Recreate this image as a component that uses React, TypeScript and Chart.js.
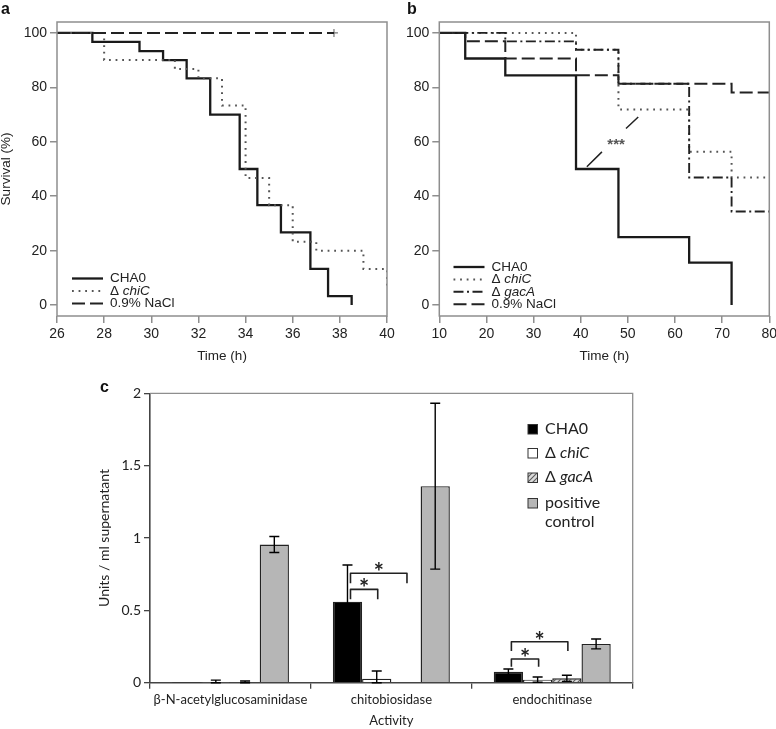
import React, { useEffect, useRef } from "react";
import { Chart, registerables } from "chart.js";

Chart.register(...registerables);

// ---------------- Panel a ----------------
const aTimeTicks = [26, 28, 30, 32, 34, 36, 38, 40];
const aCHA0Time = [26, 27.5, 29.5, 30.5, 31.5, 32.5, 33.75, 34.5, 35.5, 36.75, 37.5, 38.5];
const aCHA0Surv = [100, 96.7, 93.3, 90, 83.3, 70, 50, 36.7, 26.7, 13.3, 3.3, 0];
const aChiCTime = [26, 28, 31, 32, 33, 34, 35, 36, 37, 39, 40];
const aChiCSurv = [100, 90, 86.7, 83.3, 73.3, 46.7, 36.7, 23.3, 20, 13.3, 6.7];
const aNaClTime = [26, 37.75];
const aNaClSurv = [100, 100];
const aCensorTime = [37.75];
const aCensorSurv = [100];

// ---------------- Panel b ----------------
const bTimeTicks = [10, 20, 30, 40, 50, 60, 70, 80];
const bCHA0Time = [10, 15.5, 24, 39, 48, 63, 72];
const bCHA0Surv = [100, 90.6, 84.4, 50, 25, 15.6, 0];
const bChiCTime = [10, 39, 48, 63, 72, 80];
const bChiCSurv = [100, 93.8, 71.9, 56.3, 46.9, 46.9];
const bGacATime = [10, 24, 39, 48, 63, 72, 80];
const bGacASurv = [100, 96.9, 93.8, 81.3, 46.9, 34.4, 34.4];
const bNaClTime = [10, 15.5, 24, 39, 48, 72, 80];
const bNaClSurv = [100, 96.9, 90.6, 84.4, 81.3, 78.1, 78.1];
const bSigLineTime = [41.3, 44.5, 47.5, 49.6, 52.2];
const bSigLineSurv = [50.8, 56.3, null, 64.9, 69.1];
const bSigText = "***";
const bSigTextTime = [47.5];
const bSigTextSurv = [59.5];

const survivalTicks = [0, 20, 40, 60, 80, 100];

// ---------------- Panel c ----------------
const activities = ["β-N-acetylglucosaminidase", "chitobiosidase", "endochitinase"];
const cCHA0 = [0.002, 0.56, 0.075];
const cCHA0Err = [0, 0.253, 0.02];
const cChiC = [0.003, 0.028, 0.021];
const cChiCErr = [0.015, 0.053, 0.018];
const cGacA = [0.004, 0.004, 0.03];
const cGacAErr = [0.008, 0, 0.021];
const cPositive = [0.955, 1.358, 0.268];
const cPositiveErr = [0.055, 0.573, 0.034];
const unitsTicks = [0, 0.5, 1, 1.5, 2];
const cBracketActivity = [1, 1, 2, 2];
const cBracketFrom = [0, 0, 0, 0];
const cBracketTo = [1, 2, 1, 2];
const cBracketTop = [0.645, 0.756, 0.164, 0.283];
const cBracketFoot = [0.576, 0.687, 0.111, 0.219];
const cBracketText = ["*", "*", "*", "*"];

// ---------------- styles ----------------
const SANS = "'Liberation Sans', Arial, Helvetica, sans-serif";
const CAL = "Lato, 'Open Sans', sans-serif";
const TXT = "#222";
const STYLE_SOLID = { color: "#1a1a1a", width: 2.3, dash: [] as number[] };
const STYLE_DOT = { color: "#555", width: 2, dash: [1.8, 4.8] };
const STYLE_DASH = { color: "#222", width: 2, dash: [13, 5] };
const STYLE_DASHDOT = { color: "#222", width: 1.9, dash: [10, 3.5, 2, 3.5] };

function pts(t: number[], s: (number | null)[]) {
  return t.map((x, i) => ({ x, y: s[i] }));
}

function lineDs(t: number[], s: number[], st: any) {
  return {
    data: pts(t, s),
    stepped: true,
    borderColor: st.color,
    borderWidth: st.width,
    borderDash: st.dash,
    pointRadius: 0,
    fill: false,
  };
}

function panelPlugin(cfg: any) {
  return {
    id: "panel_" + cfg.letter,
    afterDraw(chart: any) {
      const ctx = chart.ctx;
      const ca = chart.chartArea;
      ctx.save();
      ctx.strokeStyle = "#8e8e8e";
      ctx.lineWidth = 1.5;
      ctx.setLineDash([]);
      ctx.strokeRect(ca.left, ca.top, ca.right - ca.left, ca.bottom - ca.top);
      ctx.fillStyle = "#111";
      ctx.font = "bold 16px " + SANS;
      ctx.textBaseline = "alphabetic";
      ctx.textAlign = "left";
      ctx.fillText(cfg.letter, cfg.letterX, cfg.letterY);
      cfg.legend.forEach((item: any, i: number) => {
        const y = cfg.legendY + i * cfg.legendStep;
        ctx.strokeStyle = item.style.color;
        ctx.lineWidth = item.style.width;
        ctx.setLineDash(item.style.dash);
        ctx.beginPath();
        ctx.moveTo(cfg.legendX, y);
        ctx.lineTo(cfg.legendX + 31, y);
        ctx.stroke();
        ctx.setLineDash([]);
        let x = cfg.legendX + 38;
        ctx.fillStyle = TXT;
        ctx.textBaseline = "middle";
        item.parts.forEach((p: [string, boolean]) => {
          ctx.font = (p[1] ? "italic " : "") + "13.5px " + SANS;
          ctx.fillText(p[0], x, y);
          x += ctx.measureText(p[0]).width;
        });
      });
      if (cfg.sig) {
        const xs = chart.scales.x, ys = chart.scales.y;
        ctx.fillStyle = "#555";
        ctx.font = "bold 15px " + SANS;
        ctx.textAlign = "center";
        ctx.textBaseline = "middle";
        ctx.fillText(cfg.sig.text, xs.getPixelForValue(cfg.sig.x), ys.getPixelForValue(cfg.sig.y) + 2);
      }
      ctx.restore();
    },
  };
}

function makeSurvival(canvas: HTMLCanvasElement, cfg: any) {
  const font = { family: SANS, size: 14 };
  const tfont = { family: SANS, size: 13.5 };
  return new Chart(canvas, {
    type: "line",
    data: { datasets: cfg.datasets },
    options: {
      responsive: false,
      animation: false,
      events: [],
      layout: { padding: { left: cfg.padLeft, top: 22, right: cfg.padRight, bottom: 0 } },
      plugins: { legend: { display: false }, tooltip: { enabled: false } },
      scales: {
        x: {
          type: "linear",
          min: cfg.xMin,
          max: cfg.xMax,
          afterBuildTicks: (s: any) => {
            s.ticks = cfg.xTicks.map((v: number) => ({ value: v }));
          },
          ticks: { font, color: TXT, padding: 3, maxRotation: 0, autoSkip: false, callback: (v: any) => String(v) },
          grid: { drawOnChartArea: false, drawTicks: true, tickLength: 7, color: "#8e8e8e", lineWidth: 1.5 },
          border: { display: false },
          title: { display: true, text: "Time (h)", font: tfont, color: TXT, padding: { top: 0, bottom: 1 } },
          afterFit: (s: any) => {
            s.height = 49;
            s.paddingLeft = 0;
            s.paddingRight = 0;
          },
        },
        y: {
          type: "linear",
          min: -4,
          max: 104,
          afterBuildTicks: (s: any) => {
            s.ticks = survivalTicks.map((v) => ({ value: v }));
          },
          ticks: { font, color: TXT, padding: 3, callback: (v: any) => String(v) },
          grid: { drawOnChartArea: false, drawTicks: true, tickLength: 7, color: "#8e8e8e", lineWidth: 1.5 },
          border: { display: false },
          title: { display: !!cfg.yTitle, text: cfg.yTitle || "", font: tfont, color: TXT, padding: { top: -1.5, bottom: 0 } },
          afterFit: (s: any) => {
            s.width = cfg.yWidth;
            s.paddingTop = 0;
            s.paddingBottom = 0;
          },
        },
      },
    },
    plugins: [panelPlugin(cfg)],
  } as any);
}

function makeHatch() {
  const c = document.createElement("canvas");
  c.width = 5;
  c.height = 5;
  const g = c.getContext("2d") as CanvasRenderingContext2D;
  g.fillStyle = "#dcdcdc";
  g.fillRect(0, 0, 5, 5);
  g.strokeStyle = "#5a5a5a";
  g.lineWidth = 1.1;
  g.beginPath();
  g.moveTo(0, 5);
  g.lineTo(5, 0);
  g.moveTo(-1, 1);
  g.lineTo(1, -1);
  g.moveTo(4, 6);
  g.lineTo(6, 4);
  g.stroke();
  return g.createPattern(c, "repeat");
}

function makeC(canvas: HTMLCanvasElement) {
  const hatch = makeHatch();
  const values = [cCHA0, cChiC, cGacA, cPositive];
  const errs = [cCHA0Err, cChiCErr, cGacAErr, cPositiveErr];
  const fills: any[] = ["#000", "#fff", hatch, "#b6b6b6"];
  const legendItems: [string, boolean][][] = [
    [["CHA0", false]],
    [["Δ ", false], ["chiC", true]],
    [["Δ ", false], ["gacA", true]],
    [["positive", false]],
  ];
  const axisFont = { family: CAL, size: 13 };
  const yFont = { family: CAL, size: 14 };
  const plugin = {
    id: "panelC",
    afterDatasetsDraw(chart: any) {
      const ctx = chart.ctx;
      const ys = chart.scales.y;
      ctx.save();
      ctx.strokeStyle = "#000";
      ctx.lineWidth = 1.4;
      ctx.setLineDash([]);
      errs.forEach((arr, di) => {
        const meta = chart.getDatasetMeta(di);
        meta.data.forEach((bar: any, j: number) => {
          const e = arr[j];
          if (!e) return;
          const v = values[di][j];
          const yt = ys.getPixelForValue(v + e);
          const yb = ys.getPixelForValue(Math.max(0, v - e));
          const x = bar.x;
          ctx.beginPath();
          ctx.moveTo(x, yt);
          ctx.lineTo(x, yb);
          ctx.moveTo(x - 5, yt);
          ctx.lineTo(x + 5, yt);
          ctx.moveTo(x - 5, yb);
          ctx.lineTo(x + 5, yb);
          ctx.stroke();
        });
      });
      // significance brackets
      ctx.strokeStyle = "#222";
      ctx.lineWidth = 1.6;
      ctx.lineJoin = "round";
      cBracketActivity.forEach((g, k) => {
        const x1 = chart.getDatasetMeta(cBracketFrom[k]).data[g].x + 3;
        const x2 = chart.getDatasetMeta(cBracketTo[k]).data[g].x + 1;
        const yt = ys.getPixelForValue(cBracketTop[k]);
        const yf = ys.getPixelForValue(cBracketFoot[k]);
        ctx.beginPath();
        ctx.moveTo(x1, yf);
        ctx.lineTo(x1, yt);
        ctx.lineTo(x2, yt);
        ctx.lineTo(x2, yf);
        ctx.stroke();
        ctx.fillStyle = "#222";
        ctx.font = "bold 24px " + CAL;
        ctx.textAlign = "center";
        ctx.textBaseline = "alphabetic";
        ctx.fillText(cBracketText[k], (x1 + x2) / 2, yt + 8);
      });
      ctx.restore();
    },
    afterDraw(chart: any) {
      const ctx = chart.ctx;
      const ca = chart.chartArea;
      ctx.save();
      ctx.strokeStyle = "#8e8e8e";
      ctx.lineWidth = 1.3;
      ctx.beginPath();
      ctx.moveTo(ca.left, ca.top);
      ctx.lineTo(ca.right, ca.top);
      ctx.lineTo(ca.right, ca.bottom);
      ctx.stroke();
      // panel letter
      ctx.fillStyle = "#111";
      ctx.font = "bold 16px " + SANS;
      ctx.textAlign = "left";
      ctx.textBaseline = "alphabetic";
      ctx.fillText("c", 100, 32);
      // legend
      const lx = 528;
      const baselines = [73.5, 97.5, 122, 147.5];
      legendItems.forEach((parts, i) => {
        const b = baselines[i];
        ctx.fillStyle = fills[i];
        ctx.fillRect(lx, b - 9, 9.5, 9.5);
        ctx.strokeStyle = "#333";
        ctx.lineWidth = 1;
        ctx.strokeRect(lx, b - 9, 9.5, 9.5);
        let x = lx + 17;
        ctx.fillStyle = TXT;
        parts.forEach((p) => {
          ctx.font = (p[1] ? "italic " : "") + "16px " + CAL;
          ctx.fillText(p[0], x, b);
          x += ctx.measureText(p[0]).width;
        });
      });
      ctx.font = "16px " + CAL;
      ctx.fillText("control", lx + 17, 167);
      ctx.restore();
    },
  };
  return new Chart(canvas, {
    type: "bar",
    data: {
      labels: activities,
      datasets: values.map((v, i) => ({
        data: v,
        backgroundColor: fills[i],
        borderColor: "#222",
        borderWidth: 1.4,
        categoryPercentage: 0.727,
        barPercentage: 1,
      })),
    },
    options: {
      responsive: false,
      animation: false,
      events: [],
      layout: { padding: { left: 95, top: 33.3, right: 143.3, bottom: 0 } },
      plugins: { legend: { display: false }, tooltip: { enabled: false } },
      scales: {
        x: {
          grid: { offset: true, drawOnChartArea: false, drawTicks: true, tickLength: 6, color: "#444", lineWidth: 1.3 },
          border: { color: "#444", width: 1.6 },
          ticks: { font: axisFont, color: TXT, padding: 3, maxRotation: 0, autoSkip: false },
          title: { display: true, text: "Activity", font: axisFont, color: TXT, padding: { top: 0, bottom: 0.5 } },
          afterFit: (s: any) => {
            s.height = 46.3;
            s.paddingLeft = 0;
            s.paddingRight = 0;
          },
        },
        y: {
          min: 0,
          max: 2,
          afterBuildTicks: (s: any) => {
            s.ticks = unitsTicks.map((v) => ({ value: v }));
          },
          grid: { drawOnChartArea: false, drawTicks: true, tickLength: 6, color: "#444", lineWidth: 1.3 },
          border: { color: "#444", width: 1.6 },
          ticks: { font: yFont, color: TXT, padding: 3, callback: (v: any) => String(v) },
          title: { display: true, text: "Units / ml supernatant", font: yFont, color: TXT, padding: { top: 1.2, bottom: 0 } },
          afterFit: (s: any) => {
            s.width = 55;
            s.paddingTop = 0;
            s.paddingBottom = 0;
          },
        },
      },
    },
    plugins: [plugin],
  } as any);
}

export default function App() {
  const aRef = useRef<HTMLCanvasElement>(null);
  const bRef = useRef<HTMLCanvasElement>(null);
  const cRef = useRef<HTMLCanvasElement>(null);

  useEffect(() => {
    const chartA = makeSurvival(aRef.current as HTMLCanvasElement, {
      letter: "a",
      letterX: 1,
      letterY: 14,
      padLeft: 0,
      padRight: 13,
      yWidth: 57,
      yTitle: "Survival (%)",
      xMin: 26,
      xMax: 40,
      xTicks: aTimeTicks,
      legendX: 72,
      legendY: 278.5,
      legendStep: 12.5,
      legend: [
        { style: STYLE_SOLID, parts: [["CHA0", false]] },
        { style: STYLE_DOT, parts: [["Δ ", false], ["chiC", true]] },
        { style: STYLE_DASH, parts: [["0.9% NaCl", false]] },
      ],
      datasets: [
        lineDs(aNaClTime, aNaClSurv, STYLE_DASH),
        {
          data: pts(aCensorTime, aCensorSurv),
          showLine: false,
          pointStyle: "cross",
          pointRadius: 4,
          borderColor: "#777",
          borderWidth: 1.2,
        },
        lineDs(aChiCTime, aChiCSurv, STYLE_DOT),
        lineDs(aCHA0Time, aCHA0Surv, STYLE_SOLID),
      ],
    });
    const chartB = makeSurvival(bRef.current as HTMLCanvasElement, {
      letter: "b",
      letterX: 27,
      letterY: 14,
      padLeft: 0,
      padRight: 6.7,
      yWidth: 59.3,
      yTitle: "",
      xMin: 10,
      xMax: 80,
      xTicks: bTimeTicks,
      legendX: 73.5,
      legendY: 267,
      legendStep: 12.4,
      sig: { text: bSigText, x: bSigTextTime[0], y: bSigTextSurv[0] },
      legend: [
        { style: STYLE_SOLID, parts: [["CHA0", false]] },
        { style: STYLE_DOT, parts: [["Δ ", false], ["chiC", true]] },
        { style: STYLE_DASHDOT, parts: [["Δ ", false], ["gacA", true]] },
        { style: STYLE_DASH, parts: [["0.9% NaCl", false]] },
      ],
      datasets: [
        lineDs(bNaClTime, bNaClSurv, STYLE_DASH),
        lineDs(bGacATime, bGacASurv, STYLE_DASHDOT),
        lineDs(bChiCTime, bChiCSurv, STYLE_DOT),
        lineDs(bCHA0Time, bCHA0Surv, STYLE_SOLID),
        {
          data: pts(bSigLineTime, bSigLineSurv),
          stepped: false,
          spanGaps: false,
          borderColor: "#222",
          borderWidth: 1.5,
          pointRadius: 0,
          fill: false,
        },
      ],
    });
    const chartC = makeC(cRef.current as HTMLCanvasElement);
    return () => {
      chartA.destroy();
      chartB.destroy();
      chartC.destroy();
    };
  }, []);

  return (
    <div style={{ position: "absolute", left: 0, top: 0, width: 776, height: 729, background: "#fff", overflow: "hidden" }}>
      <canvas ref={aRef} width={400} height={365} style={{ position: "absolute", left: 0, top: 0 }} />
      <canvas ref={bRef} width={396} height={365} style={{ position: "absolute", left: 380, top: 0 }} />
      <canvas ref={cRef} width={776} height={369} style={{ position: "absolute", left: 0, top: 360 }} />
    </div>
  );
}
